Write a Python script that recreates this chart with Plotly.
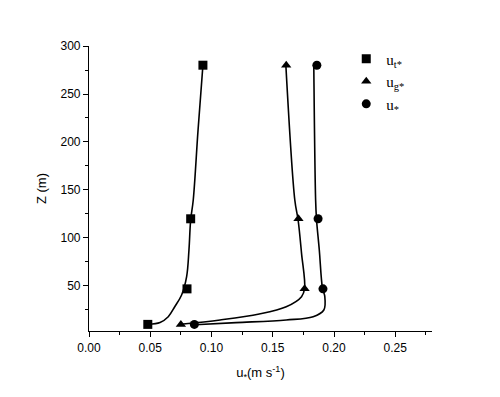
import plotly.graph_objects as go

# measured points
z_pts = [10, 47, 120, 280]
ut_pts = [0.048, 0.080, 0.083, 0.093]
ug_pts = [0.075, 0.176, 0.171, 0.161]
us_pts = [0.086, 0.191, 0.187, 0.186]

# fitted curves
ut_curve_x = [0.0485, 0.058, 0.0647, 0.070, 0.0756, 0.0797, 0.0816, 0.083, 0.0851, 0.089, 0.093]
ut_curve_z = [10.2, 12, 18, 28.4, 40.6, 59.7, 87.5, 118.75, 139.6, 212, 280]
ug_curve_x = [0.075, 0.107, 0.139, 0.161, 0.1735, 0.176, 0.1735, 0.1707, 0.168, 0.1607]
ug_curve_z = [10.2, 14.6, 20.8, 28.4, 38.9, 47.6, 84, 118.75, 139.6, 280]
us_curve_x = [0.0865, 0.120, 0.161, 0.183, 0.1917, 0.1925, 0.1906, 0.188, 0.1857, 0.185, 0.1835]
us_curve_z = [9.6, 11.8, 14.6, 18, 25, 38.9, 47.6, 87.5, 119.8, 139.6, 280]

names = ["u<sub>t*</sub>", "u<sub>g*</sub>", "u<sub>*</sub>"]

fig = go.Figure()
line = dict(color="black", width=1.6, shape="spline", smoothing=1.0)
for cx, cz in [(ut_curve_x, ut_curve_z), (ug_curve_x, ug_curve_z), (us_curve_x, us_curve_z)]:
    fig.add_trace(go.Scatter(x=cx, y=cz, mode="lines", line=line, showlegend=False, hoverinfo="skip"))

symbols = ["square", "triangle-up", "circle"]
for px, sym, nm in zip([ut_pts, ug_pts, us_pts], symbols, names):
    fig.add_trace(go.Scatter(x=px, y=z_pts, mode="markers", name=nm,
                             marker=dict(symbol=sym, size=9, color="black")))

axis_common = dict(showline=True, linecolor="black", linewidth=1.2, ticks="outside",
                   ticklen=5, tickwidth=1.2, tickcolor="black", showgrid=False, zeroline=False,
                   tickfont=dict(family="Liberation Sans, Arial", size=12, color="black"),
                   mirror=False, automargin=False)

fig.update_layout(
    width=500, height=397,
    margin=dict(l=81, r=76, t=38, b=74),
    paper_bgcolor="white", plot_bgcolor="white",
    xaxis=dict(range=[0, 0.28], dtick=0.05, tickformat=".2f",
               minor=dict(dtick=0.025, ticks="outside", ticklen=3, tickcolor="black", tickwidth=1.2),
               title=dict(text="u<sub>*</sub>(m s<sup>-1</sup>)", standoff=14,
                          font=dict(family="Liberation Sans, Arial", size=13, color="black")),
               **axis_common),
    yaxis=dict(range=[3.1, 300], tickvals=[50, 100, 150, 200, 250, 300],
               minor=dict(tickvals=[25, 75, 125, 175, 225, 275], ticks="outside", ticklen=3,
                          tickcolor="black", tickwidth=1.2),
               title=dict(text="Z (m)", standoff=10,
                          font=dict(family="Liberation Sans, Arial", size=13, color="black")),
               **axis_common),
    legend=dict(x=0.75, y=1.012, xanchor="left", yanchor="top", bgcolor="rgba(0,0,0,0)",
                font=dict(family="Liberation Serif, Times New Roman", size=15, color="black"),
                itemwidth=30),
    showlegend=True,
)

fig.write_html("out.html")
